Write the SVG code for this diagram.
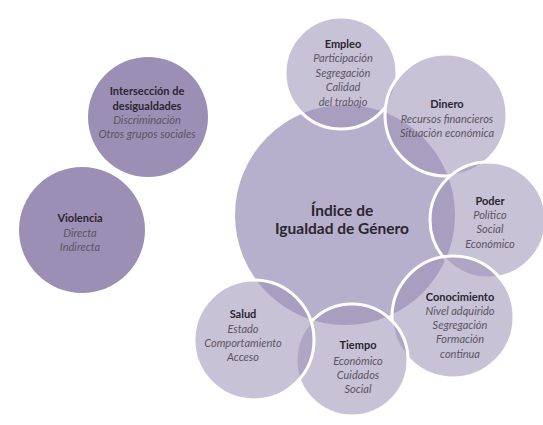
<svg xmlns="http://www.w3.org/2000/svg" width="543" height="425" viewBox="0 0 543 425">
<style>
.solid{fill:#9c8fb6}
.big{fill:#b7b0cc}
.sat{fill:#9b8fb6;fill-opacity:0.55;stroke:#ffffff;stroke-width:3}
text{font-family:Lato,"Open Sans",sans-serif;text-anchor:middle;dominant-baseline:central}
.h{font-size:11px;font-weight:700;fill:#2b2530}
.i{font-size:11px;font-style:italic;fill:#5b5563}
.t{font-size:15.5px;font-weight:700;fill:#2b2530}
</style>
<rect width="543" height="425" fill="#ffffff"/>
<g id="interseccion">
<circle class="solid" cx="148" cy="117" r="60"/>
<text class="h" x="147" y="90">Intersección de</text>
<text class="h" x="147" y="105">desigualdades</text>
<text class="i" x="147" y="119">Discriminación</text>
<text class="i" x="147" y="133">Otros grupos sociales</text>
</g>
<g id="violencia">
<circle class="solid" cx="82" cy="230" r="63"/>
<text class="h" x="80" y="217">Violencia</text>
<text class="i" x="80" y="232">Directa</text>
<text class="i" x="80" y="246">Indirecta</text>
</g>
<g id="indice">
<circle class="big" cx="345" cy="215" r="110"/>
</g>
<g id="empleo">
<circle class="sat" cx="341" cy="73" r="56"/>
</g>
<g id="dinero">
<circle class="sat" cx="446" cy="115" r="61"/>
</g>
<g id="poder">
<circle class="sat" cx="488" cy="220" r="58"/>
</g>
<g id="conocimiento">
<circle class="sat" cx="453" cy="317" r="61"/>
</g>
<g id="tiempo">
<circle class="sat" cx="352" cy="360" r="56"/>
</g>
<g id="salud">
<circle class="sat" cx="254" cy="340" r="60"/>
</g>
<g id="labels">
<text class="t" x="342" y="210">Índice de</text>
<text class="t" x="342" y="228">Igualdad de Género</text>
<text class="h" x="343" y="43">Empleo</text>
<text class="i" x="343" y="57">Participación</text>
<text class="i" x="343" y="72">Segregación</text>
<text class="i" x="343" y="86">Calidad</text>
<text class="i" x="343" y="101">del trabajo</text>
<text class="h" x="447" y="103">Dinero</text>
<text class="i" x="447" y="118">Recursos financieros</text>
<text class="i" x="447" y="132">Situación económica</text>
<text class="h" x="490" y="200">Poder</text>
<text class="i" x="490" y="214">Político</text>
<text class="i" x="490" y="228">Social</text>
<text class="i" x="490" y="243">Económico</text>
<text class="h" x="460" y="296">Conocimiento</text>
<text class="i" x="460" y="310">Nivel adquirido</text>
<text class="i" x="460" y="324">Segregación</text>
<text class="i" x="460" y="338">Formación</text>
<text class="i" x="460" y="353">continua</text>
<text class="h" x="358" y="344">Tiempo</text>
<text class="i" x="358" y="360">Económico</text>
<text class="i" x="358" y="374">Cuidados</text>
<text class="i" x="358" y="388">Social</text>
<text class="h" x="243" y="313">Salud</text>
<text class="i" x="243" y="328">Estado</text>
<text class="i" x="243" y="342">Comportamiento</text>
<text class="i" x="243" y="356">Acceso</text>
</g>
</svg>
